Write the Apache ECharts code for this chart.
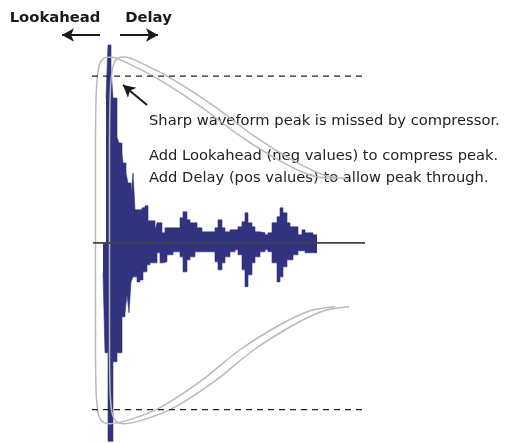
<!DOCTYPE html>
<html>
<head>
<meta charset="utf-8">
<script src="https://cdn.jsdelivr.net/npm/echarts@6/dist/echarts.min.js"></script>
<style>
html,body{margin:0;padding:0;background:#fff;}
#c{width:509px;height:443px;}
</style>
</head>
<body>
<div id="c"></div>
<script>
// time in ms (0 = sharp peak), amplitude normalised so threshold = 1
const upperEnvelope = [
  [-1,0.868],[0,1.186],[1.5,1.048],[2.5,0.868],[4.5,0.635],[5.5,0.599],[7,0.539],[7.5,0.479],
  [9,0.419],[10,0.359],[11.5,0.287],[12.5,0.419],[13.5,0.198],[17,0.21],[18.5,0.222],[20,0.132],
  [23.5,0.078],[24.5,0.12],[27,0.06],[28.5,0.09],[36,0.15],[37.5,0.186],[39.5,0.138],[41,0.12],
  [44.5,0.09],[47,0.066],[53.5,0.09],[55,0.138],[57,0.09],[58.5,0.066],[61,0.078],[65,0.096],
  [67,0.126],[68.5,0.18],[70,0.12],[72,0.096],[73.5,0.066],[76,0.06],[78.5,0.048],[80,0.06],
  [82,0.12],[84.5,0.156],[86,0.21],[87.5,0.18],[89.5,0.12],[91,0.096],[95,0.048],[97,0.078],
  [98.5,0.06],[102.5,0.048],[104.5,0.048]
];
const lowerEnvelope = [
  [-2.5,-0.18],[-1.5,-0.659],[0,-1.19],[2.5,-0.713],[4.5,-0.659],[7,-0.443],[8.5,-0.419],[9.5,-0.311],
  [10.5,-0.419],[11.5,-0.234],[12.5,-0.204],[14.5,-0.234],[16,-0.222],[17.5,-0.174],[19.5,-0.132],[21,-0.12],
  [24.5,-0.06],[26,-0.12],[27.5,-0.114],[29.5,-0.072],[32.5,-0.054],[36,-0.084],[37.5,-0.174],[39.5,-0.102],
  [41,-0.084],[43.5,-0.054],[53.5,-0.114],[55,-0.162],[57,-0.12],[58.5,-0.084],[61,-0.054],[63.5,-0.042],
  [65,-0.072],[67,-0.162],[68.5,-0.263],[70,-0.192],[72,-0.12],[73.5,-0.084],[76,-0.054],[78.5,-0.042],
  [80,-0.054],[82,-0.12],[84.5,-0.234],[86,-0.204],[87.5,-0.144],[89.5,-0.102],[92.5,-0.072],[95,-0.048],
  [98.5,-0.06],[104.5,-0.06]
];
// compressor gain envelopes (lookahead = earlier, delay = later)
const gainCurveLookahead = [
  [113.5,0.383],[101,0.407],[86,0.491],[66,0.641],[46,0.82],[26,0.976],[11,1.07],[1,1.114],
  [-2,1.108],[-4,1.078],[-5.25,1.006],[-6,0.856],[-6.25,0.557],[-6.25,0],[-6.25,-0.581],[-6,-0.88],
  [-5.25,-1.0],[-4,-1.054],[-2,-1.078],[1,-1.084],[11,-1.06],[26,-0.988],[46,-0.832],[66,-0.641],
  [86,-0.491],[101,-0.407],[113.5,-0.383]
];
const gainCurveDelay = [
  [120.5,0.383],[108,0.407],[93,0.491],[73,0.641],[53,0.82],[33,0.976],[18,1.07],[8,1.114],
  [5,1.108],[3,1.078],[1.75,1.006],[1,0.856],[0.75,0.557],[0.75,0],[0.75,-0.581],[1,-0.88],
  [1.75,-1.0],[3,-1.054],[5,-1.078],[8,-1.084],[18,-1.06],[33,-0.988],[53,-0.832],[73,-0.641],
  [93,-0.491],[108,-0.407],[120.5,-0.383]
];
const thresholdLevels = [1, -1];
const thresholdSpan = [-8, 127];
const baselineSpan = [-7.5, 128.5];
const headerLabels = ['Lookahead', 'Delay'];
const noteLines = [
  'Sharp waveform peak is missed by compressor.',
  'Add Lookahead (neg values) to compress peak.',
  'Add Delay (pos values) to allow peak through.'
];
// arrows: [from, to] in time / amplitude units
const lookaheadArrow = [[-4,1.246],[-23,1.246]];
const delayArrow = [[6,1.246],[25,1.246]];
const peakPointer = [[19.5,0.826],[7.5,0.946]];

const chart = echarts.init(document.getElementById('c'), null, {renderer:'canvas'});
const navy = '#31337f';
const series = [
  {type:'line', step:'end', data:upperEnvelope, symbol:'none', z:1,
   lineStyle:{width:0.6, color:navy}, areaStyle:{color:navy, opacity:1, origin:0}},
  {type:'line', step:'end', data:lowerEnvelope, symbol:'none', z:1,
   lineStyle:{width:0.6, color:navy}, areaStyle:{color:navy, opacity:1, origin:0}},
  {type:'line', smooth:0.35, data:gainCurveLookahead, symbol:'none', z:3,
   lineStyle:{color:'#b9b9b9', width:1.5}},
  {type:'line', smooth:0.35, data:gainCurveDelay, symbol:'none', z:3,
   lineStyle:{color:'#b9b9b9', width:1.5}},
  {type:'line', data:[[baselineSpan[0],0],[baselineSpan[1],0]], symbol:'none', z:4,
   lineStyle:{color:'#444', width:1.8}}
];
thresholdLevels.forEach(v => series.push({
  type:'line', data:[[thresholdSpan[0],v],[thresholdSpan[1],v]], symbol:'none', z:4,
  lineStyle:{color:'#222', width:1.2, type:[6,5]}
}));
series.push({
  type:'line', data:[], symbol:'none', z:5,
  markLine:{silent:true, symbol:['none','arrow'], symbolSize:[10,12], label:{show:false},
    lineStyle:{color:'#1a1a1a', width:2, type:'solid'},
    data:[lookaheadArrow, delayArrow, peakPointer].map(a => [{coord:a[0]},{coord:a[1]}])}
});

const bodyFont = '14.7px "DejaVu Sans"';
chart.setOption({
  animation:false,
  grid:{left:0, width:509, top:1, height:442},
  xAxis:{type:'value', min:-54, max:200.5, show:false},
  yAxis:{type:'value', min:-1.2, max:1.45, show:false},
  series:series,
  graphic:[
    {type:'text', x:55, y:18, style:{text:headerLabels[0], align:'center', verticalAlign:'middle',
      font:'bold 14.8px "DejaVu Sans"', fill:'#1a1a1a'}},
    {type:'text', x:148.5, y:18, style:{text:headerLabels[1], align:'center', verticalAlign:'middle',
      font:'bold 14.8px "DejaVu Sans"', fill:'#1a1a1a'}},
    {type:'text', x:149, y:121.5, style:{text:noteLines[0], align:'left', verticalAlign:'middle',
      font:bodyFont, fill:'#222'}},
    {type:'text', x:149, y:156.5, style:{text:noteLines[1], align:'left', verticalAlign:'middle',
      font:bodyFont, fill:'#222'}},
    {type:'text', x:149, y:178, style:{text:noteLines[2], align:'left', verticalAlign:'middle',
      font:bodyFont, fill:'#222'}}
  ]
});
</script>
</body>
</html>
